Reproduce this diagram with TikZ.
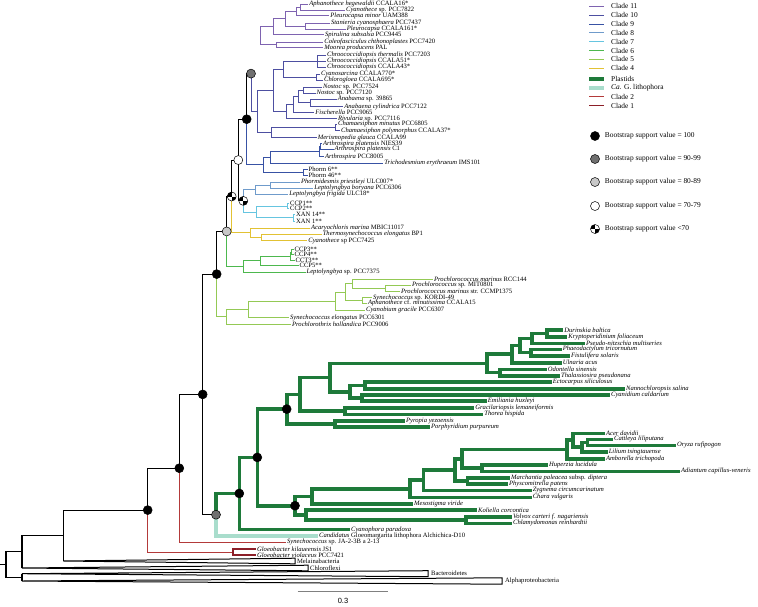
\documentclass[tikz,border=0pt]{standalone}
\usepackage{fontspec}
\setmainfont{Liberation Serif}
\newfontfamily\barfont{Liberation Sans}
\usetikzlibrary{positioning}
\definecolor{cladeXI}{HTML}{7E63B0}
\definecolor{cladeX}{HTML}{4D4FA1}
\definecolor{cladeIX}{HTML}{3852A4}
\definecolor{cladeVIII}{HTML}{6F9BCB}
\definecolor{cladeVII}{HTML}{66C5E0}
\definecolor{cladeVI}{HTML}{4DB84E}
\definecolor{cladeV}{HTML}{94C955}
\definecolor{cladeIV}{HTML}{E2C234}
\definecolor{plastid}{HTML}{1E7A3A}
\definecolor{lithoteal}{HTML}{A9DDCC}
\definecolor{cladeII}{HTML}{B33A3A}
\definecolor{cladeI}{HTML}{8C1F28}
\definecolor{bootgrey}{HTML}{707070}
\definecolor{bootlight}{HTML}{C8C8C8}

\begin{document}
\begin{tikzpicture}[
    x=1pt, y=-1pt,
    leaf/.style={anchor=west, inner xsep=0.9pt, inner ysep=0.2pt, font=\fontsize{6.6}{7}\selectfont},
    legtxt/.style={anchor=west, inner sep=0pt, font=\fontsize{7.4}{8}\selectfont},
    bb/.style={draw=black, line width=1.1pt},
    cl/.style={draw=#1, line width=0.9pt},
    pl/.style={draw=plastid, line width=3.6pt},
    lt/.style={draw=lithoteal, line width=3.6pt},
    b100/.style={circle, draw=black, fill=black, line width=0.5pt,
        minimum size=9pt, inner sep=0pt},
    b90/.style={b100, fill=bootgrey},
    b80/.style={b100, fill=bootlight},
    b70/.style={b100, fill=white},
    bpie/.style={b70, path picture={
        \fill[black] (path picture bounding box.center) -- (path picture bounding box.north)
            -| (path picture bounding box.west) -- cycle;
        \fill[black] (path picture bounding box.center) -- (path picture bounding box.south)
            -| (path picture bounding box.east) -- cycle;}},
    collapsed/.style={draw=black, fill=white, line width=1pt, line join=miter}
]
\useasboundingbox (0,0) rectangle (758,606);

% Clade 11
\coordinate (n11a) at (300,7);
\coordinate (n11b) at (296,11.35);
\coordinate (n11c) at (305,26);
\coordinate (n11d) at (285,18.7);
\coordinate (n11e) at (273,26.7);
\coordinate (n11f) at (276,44.85);
\coordinate (n11g) at (260,35.8);
\node[leaf] (aph) at (308.3,4) {\textit{Aphanothece hegewaldii} CCALA16*};
\node[leaf] (cyt) at (345,10) {\textit{Cyanothece} sp. PCC7822};
\node[leaf] (plm) at (329.3,15.7) {\textit{Pleurocapsa minor} UAM388};
\node[leaf] (stn) at (330,23) {\textit{Stanieria cyanosphaera} PCC7437};
\node[leaf] (plc) at (345.7,29) {\textit{Pleurocapsa} CCALA161*};
\node[leaf] (spi) at (324,34.7) {\textit{Spirulina subsalsa} PCC9445};
\node[leaf] (col) at (323.3,42) {\textit{Coleofasciculus chthonoplastes} PCC7420};
\node[leaf] (moo) at (323.3,47.7) {\textit{Moorea producens} PAL};
\draw[cl=cladeXI] (n11a) |- (aph.west);
\draw[cl=cladeXI] (n11a) |- (cyt.west);
\draw[cl=cladeXI] (n11b) |- (n11a);
\draw[cl=cladeXI] (n11b) |- (plm.west);
\draw[cl=cladeXI] (n11c) |- (stn.west);
\draw[cl=cladeXI] (n11c) |- (plc.west);
\draw[cl=cladeXI] (n11d) |- (n11b);
\draw[cl=cladeXI] (n11d) |- (n11c);
\draw[cl=cladeXI] (n11e) |- (n11d);
\draw[cl=cladeXI] (n11e) |- (spi.west);
\draw[cl=cladeXI] (n11f) |- (col.west);
\draw[cl=cladeXI] (n11f) |- (moo.west);
\draw[cl=cladeXI] (n11g) |- (n11e);
\draw[cl=cladeXI] (n11g) |- (n11f);

% Clade 10
\coordinate (chro) at (317,61);
\coordinate (csch) at (316,77);
\coordinate (n10d) at (283.3,69);
\coordinate (nos1) at (303,90.15);
\coordinate (ana) at (310,102.85);
\coordinate (nos2) at (298,96.5);
\coordinate (nos3) at (293,104.6);
\coordinate (nos4) at (286,111.65);
\coordinate (n10a) at (273.3,90.3);
\coordinate (cham) at (335.5,127.25);
\coordinate (n10b) at (271.7,132.5);
\coordinate (n10c) at (257.3,111.4);
\node[leaf] (cth) at (326,55) {\textit{Chroococcidiopsis thermalis} PCC7203};
\node[leaf] (c51) at (326,61) {\textit{Chroococcidiopsis} CCALA51*};
\node[leaf] (c43) at (326,67) {\textit{Chroococcidiopsis} CCALA43*};
\node[leaf] (csa) at (320,74) {\textit{Cyanosarcina} CCALA770*};
\node[leaf] (clg) at (323,80) {\textit{Chlorogloea} CCALA695*};
\node[leaf] (n24) at (322,87.3) {\textit{Nostoc} sp. PCC7524};
\node[leaf] (n20) at (315.5,93) {\textit{Nostoc} sp. PCC7120};
\node[leaf] (a39) at (336.7,99) {\textit{Anabaena} sp. 39865};
\node[leaf] (acy) at (343.3,106.7) {\textit{Anabaena cylindrica} PCC7122};
\node[leaf] (fis) at (314.3,112.7) {\textit{Fischerella} PCC9065};
\node[leaf] (riv) at (337,118.7) {\textit{Rivularia} sp. PCC7116};
\node[leaf] (cmi) at (337,124) {\textit{Chamaesiphon minutus} PCC6805};
\node[leaf] (cpo) at (340,130.5) {\textit{Chamaesiphon polymorphus} CCALA37*};
\node[leaf] (mer) at (316.7,137.7) {\textit{Merismopedia glauca} CCALA99};
\draw[cl=cladeX] (chro) |- (cth.west);
\draw[cl=cladeX] (chro) |- (c51.west);
\draw[cl=cladeX] (chro) |- (c43.west);
\draw[cl=cladeX] (csch) |- (csa.west);
\draw[cl=cladeX] (csch) |- (clg.west);
\draw[cl=cladeX] (n10d) |- (chro);
\draw[cl=cladeX] (n10d) |- (csch);
\draw[cl=cladeX] (nos1) |- (n24.west);
\draw[cl=cladeX] (nos1) |- (n20.west);
\draw[cl=cladeX] (ana) |- (a39.west);
\draw[cl=cladeX] (ana) |- (acy.west);
\draw[cl=cladeX] (nos2) |- (nos1);
\draw[cl=cladeX] (nos2) |- (ana);
\draw[cl=cladeX] (nos3) |- (nos2);
\draw[cl=cladeX] (nos3) |- (fis.west);
\draw[cl=cladeX] (nos4) |- (nos3);
\draw[cl=cladeX] (nos4) |- (riv.west);
\draw[cl=cladeX] (n10a) |- (n10d);
\draw[cl=cladeX] (n10a) |- (nos4);
\draw[cl=cladeX] (cham) |- (cmi.west);
\draw[cl=cladeX] (cham) |- (cpo.west);
\draw[cl=cladeX] (n10b) |- (cham);
\draw[cl=cladeX] (n10b) |- (mer.west);
\draw[cl=cladeX] (n10c) |- (n10a);
\draw[cl=cladeX] (n10c) |- (n10b);

% Clade 9
\coordinate (art1) at (320.5,146.5);
\coordinate (art) at (319.5,151.6);
\coordinate (trin) at (270,157.45);
\coordinate (phn) at (303,172.15);
\coordinate (n9) at (263.3,164.8);
\node[leaf] (an3) at (322,143.7) {\textit{Arthrospira platensis} NIES39};
\node[leaf] (ac1) at (333.5,149.3) {\textit{Arthrospira platensis} C1};
\node[leaf] (a85) at (324,156.7) {\textit{Arthrospira} PCC8005};
\node[leaf] (tri) at (383.3,163.3) {\textit{Trichodesmium erythraeum} IMS101};
\node[leaf] (ph6) at (307.5,169) {Phorm 6**};
\node[leaf] (ph46) at (307.5,175.3) {Phorm 46**};
\draw[cl=cladeIX] (art1) |- (an3.west);
\draw[cl=cladeIX] (art1) |- (ac1.west);
\draw[cl=cladeIX] (art) |- (art1);
\draw[cl=cladeIX] (art) |- (a85.west);
\draw[cl=cladeIX] (trin) |- (art);
\draw[cl=cladeIX] (trin) |- (tri.west);
\draw[cl=cladeIX] (phn) |- (ph6.west);
\draw[cl=cladeIX] (phn) |- (ph46.west);
\draw[cl=cladeIX] (n9) |- (trin);
\draw[cl=cladeIX] (n9) |- (phn);

% Clade 8 and 7
\coordinate (lbn) at (270,185.3);
\coordinate (n8) at (255,189.8);
\coordinate (ccn) at (287.5,206.1);
\coordinate (xan) at (293,217.85);
\coordinate (n7) at (256.7,212);
\node[leaf] (phs) at (300,182.3) {\textit{Phormidesmis priestleyi} ULC007*};
\node[leaf] (lbo) at (313.3,188.3) {\textit{Leptolyngbya boryana} PCC6306};
\node[leaf] (lfr) at (288.3,194.3) {\textit{Leptolyngbya frigida} ULC18*};
\node[leaf] (cp1) at (289,203.4) {CCP1**};
\node[leaf] (cp2) at (289,208.8) {CCP2**};
\node[leaf] (x14) at (295,214) {XAN 14**};
\node[leaf] (x1) at (295,221.7) {XAN 1**};
\draw[cl=cladeVIII] (lbn) |- (phs.west);
\draw[cl=cladeVIII] (lbn) |- (lbo.west);
\draw[cl=cladeVIII] (n8) |- (lbn);
\draw[cl=cladeVIII] (n8) |- (lfr.west);
\draw[cl=cladeVII] (ccn) |- (cp1.west);
\draw[cl=cladeVII] (ccn) |- (cp2.west);
\draw[cl=cladeVII] (xan) |- (x14.west);
\draw[cl=cladeVII] (xan) |- (x1.west);
\draw[cl=cladeVII] (n7) |- (ccn);
\draw[cl=cladeVII] (n7) |- (xan);

% Clade 4
\coordinate (y1) at (261.7,237.5);
\coordinate (n4) at (250,232.9);
\node[leaf] (aca) at (310,228.3) {\textit{Acaryochloris marina} MBIC11017};
\node[leaf] (the) at (321.7,234.3) {\textit{Thermosynechococcus elongatus} BP1};
\node[leaf] (c25) at (307.3,240.7) {\textit{Cyanothece} sp PCC7425};
\draw[cl=cladeIV] (y1) |- (the.west);
\draw[cl=cladeIV] (y1) |- (c25.west);
\draw[cl=cladeIV] (n4) |- (aca.west);
\draw[cl=cladeIV] (n4) |- (y1);

% Clade 6
\coordinate (g1) at (291.5,252.2);
\coordinate (g2) at (290,256.1);
\coordinate (g3) at (260,260.6);
\coordinate (n6) at (243.3,266.4);
\node[leaf] (cp3) at (293.5,249.6) {CCP3**};
\node[leaf] (cp4) at (293.5,254.8) {CCP4**};
\node[leaf] (ct3) at (294.5,260) {CCT3**};
\node[leaf] (cp5) at (298.5,265.2) {CCP5**};
\node[leaf] (l75) at (305.5,272.3) {\textit{Leptolyngbya} sp. PCC7375};
\draw[cl=cladeVI] (g1) |- (cp3.west);
\draw[cl=cladeVI] (g1) |- (cp4.west);
\draw[cl=cladeVI] (g2) |- (g1);
\draw[cl=cladeVI] (g2) |- (ct3.west);
\draw[cl=cladeVI] (g3) |- (g2);
\draw[cl=cladeVI] (g3) |- (cp5.west);
\draw[cl=cladeVI] (n6) |- (g3);
\draw[cl=cladeVI] (n6) |- (l75.west);

% Clade 5
\coordinate (pr1) at (385,288.25);
\coordinate (pr2) at (352,283.8);
\coordinate (skn) at (362,300.4);
\coordinate (xn) at (345,292.1);
\coordinate (un) at (335,301);
\coordinate (bn) at (248.3,309.35);
\coordinate (n5) at (226.7,316.7);
\node[leaf] (rcc) at (433,279.3) {\textit{Prochlorococcus marinus} RCC144};
\node[leaf] (mit) at (411,285) {\textit{Prochlorococcus} sp. MIT0801};
\node[leaf] (ccm) at (400,291.5) {\textit{Prochlorococcus marinus} str. CCMP1375};
\node[leaf] (kor) at (372,297.5) {\textit{Synechococcus} sp. KORDI-49};
\node[leaf] (mnt) at (367,303.3) {\textit{Aphanothece} cf. \textit{minutissima} CCALA15};
\node[leaf] (cgr) at (365,310) {\textit{Cyanobium gracile} PCC6307};
\node[leaf] (sel) at (289,317.7) {\textit{Synechococcus elongatus} PCC6301};
\node[leaf] (pho) at (291,324) {\textit{Prochlorothrix hollandica} PCC9006};
\draw[cl=cladeV] (pr1) |- (mit.west);
\draw[cl=cladeV] (pr1) |- (ccm.west);
\draw[cl=cladeV] (pr2) |- (rcc.west);
\draw[cl=cladeV] (pr2) |- (pr1);
\draw[cl=cladeV] (skn) |- (kor.west);
\draw[cl=cladeV] (skn) |- (mnt.west);
\draw[cl=cladeV] (xn) |- (pr2);
\draw[cl=cladeV] (xn) |- (skn);
\draw[cl=cladeV] (un) |- (xn);
\draw[cl=cladeV] (un) |- (cgr.west);
\draw[cl=cladeV] (bn) |- (un);
\draw[cl=cladeV] (bn) |- (sel.west);
\draw[cl=cladeV] (n5) |- (bn);
\draw[cl=cladeV] (n5) |- (pho.west);

% Cyanobacterial backbone
\coordinate (gnode) at (251,73.6);
\coordinate (b1) at (246.7,119.2);
\coordinate (p7) at (243.3,200.9);
\coordinate (w1) at (238.3,160.05);
\coordinate (w2) at (231.7,196.5);
\coordinate (lg) at (226.7,231.45);
\coordinate (k1) at (216.7,274.1);
\draw[cl=cladeX] (gnode) |- (n10c);
\draw[bb] (b1) |- (gnode);
\draw[cl=cladeIX] (b1) |- (n9);
\draw[cl=cladeVIII] (p7) |- (n8);
\draw[cl=cladeVII] (p7) |- (n7);
\draw[bb] (w1) |- (b1);
\draw[bb] (w1) |- (p7);
\draw[bb] (w2) |- (w1);
\draw[cl=cladeIV] (w2) |- (n4);
\draw[bb] (lg) |- (w2);
\draw[cl=cladeVI] (lg) |- (n6);
\draw[bb] (k1) |- (lg);
\draw[cl=cladeV] (k1) |- (n5);

% Plastids: red lineage
\coordinate (dn) at (546.7,333.35);
\coordinate (d1) at (531.7,338.3);
\coordinate (d2) at (530.7,352.5);
\coordinate (d3) at (520,345.4);
\coordinate (d4) at (511.7,354.05);
\coordinate (d5) at (500,372.65);
\coordinate (dia) at (486.7,363.35);
\coordinate (enn) at (365,385.35);
\coordinate (cen) at (362,398);
\coordinate (ra2) at (350,391.7);
\coordinate (ra) at (330,377.5);
\coordinate (rb) at (345,411.15);
\coordinate (r1) at (300,394.3);
\coordinate (rr) at (335,423.85);
\coordinate (p3) at (286.7,409.1);
\node[leaf] (dur) at (563.3,330) {\textit{Durinskia baltica}};
\node[leaf] (kry) at (567.3,336.7) {\textit{Kryptoperidinium foliaceum}};
\node[leaf] (psn) at (585,343.3) {\textit{Pseudo-nitzschia multiseries}};
\node[leaf] (pha) at (561.7,349.3) {\textit{Phaeodactylum tricornutum}};
\node[leaf] (fsl) at (570,355.7) {\textit{Fistulifera solaris}};
\node[leaf] (uln) at (561.7,362.7) {\textit{Ulnaria acus}};
\node[leaf] (odo) at (546.7,369.3) {\textit{Odontella sinensis}};
\node[leaf] (tha) at (560,376) {\textit{Thalassiosira pseudonana}};
\node[leaf] (ect) at (551.7,382) {\textit{Ectocarpus siliculosus}};
\node[leaf] (nan) at (625,388.7) {\textit{Nannochloropsis salina}};
\node[leaf] (cya) at (610,395) {\textit{Cyanidium caldarium}};
\node[leaf] (emi) at (486.7,401) {\textit{Emiliania huxleyi}};
\node[leaf] (gra) at (474.3,408) {\textit{Gracilariopsis lemaneiformis}};
\node[leaf] (tho) at (483.3,414.3) {\textit{Thorea hispida}};
\node[leaf] (pyr) at (405,420.7) {\textit{Pyropia yezoensis}};
\node[leaf] (por) at (430,427) {\textit{Porphyridium purpureum}};
\draw[pl] (dn) |- (dur.west);
\draw[pl] (dn) |- (kry.west);
\draw[pl] (d1) |- (dn);
\draw[pl] (d1) |- (psn.west);
\draw[pl] (d2) |- (pha.west);
\draw[pl] (d2) |- (fsl.west);
\draw[pl] (d3) |- (d1);
\draw[pl] (d3) |- (d2);
\draw[pl] (d4) |- (d3);
\draw[pl] (d4) |- (uln.west);
\draw[pl] (d5) |- (odo.west);
\draw[pl] (d5) |- (tha.west);
\draw[pl] (dia) |- (d4);
\draw[pl] (dia) |- (d5);
\draw[pl] (enn) |- (ect.west);
\draw[pl] (enn) |- (nan.west);
\draw[pl] (cen) |- (cya.west);
\draw[pl] (cen) |- (emi.west);
\draw[pl] (ra2) |- (enn);
\draw[pl] (ra2) |- (cen);
\draw[pl] (ra) |- (dia);
\draw[pl] (ra) |- (ra2);
\draw[pl] (rb) |- (gra.west);
\draw[pl] (rb) |- (tho.west);
\draw[pl] (r1) |- (ra);
\draw[pl] (r1) |- (rb);
\draw[pl] (rr) |- (pyr.west);
\draw[pl] (rr) |- (por.west);
\draw[pl] (p3) |- (r1);
\draw[pl] (p3) |- (rr);

% Plastids: green lineage
\coordinate (nco) at (587.3,442.3);
\coordinate (nmono) at (581.7,447.15);
\coordinate (nmeso) at (573,440.2);
\coordinate (nang) at (566.7,449.45);
\coordinate (fern) at (482,468);
\coordinate (a4) at (462,458.7);
\coordinate (bryo) at (467.3,481);
\coordinate (a3) at (455,469.85);
\coordinate (a2) at (423.3,480.2);
\coordinate (a1) at (410,488.75);
\coordinate (sn) at (312,496.4);
\coordinate (vcn) at (466,520);
\coordinate (chn) at (306,515);
\coordinate (p4) at (295,505.7);
\node[leaf] (ace) at (605,433.3) {\textit{Acer davidii}};
\node[leaf] (cat) at (613,439.3) {\textit{Cattleya liliputana}};
\node[leaf] (ory) at (676,445.3) {\textit{Oryza rufipogon}};
\node[leaf] (lil) at (607.7,452) {\textit{Lilium tsingtauense}};
\node[leaf] (amb) at (605,458.7) {\textit{Amborella trichopoda}};
\node[leaf] (hup) at (548,464.7) {\textit{Huperzia lucidula}};
\node[leaf] (adi) at (680,471.3) {\textit{Adiantum capillus-veneris}};
\node[leaf] (mar) at (510,478) {\textit{Marchantia paleacea} subsp. \textit{diptera}};
\node[leaf] (phy) at (508,484) {\textit{Physcomitrella patens}};
\node[leaf] (zyg) at (531.7,490.5) {\textit{Zygnema circumcarinatum}};
\node[leaf] (cha) at (531.7,497.3) {\textit{Chara vulgaris}};
\node[leaf] (mes) at (413,504) {\textit{Mesostigma viride}};
\node[leaf] (kol) at (477,510) {\textit{Koliella corcontica}};
\node[leaf] (vol) at (512,516.7) {\textit{Volvox carteri f. nagariensis}};
\node[leaf] (chm) at (512,523.3) {\textit{Chlamydomonas reinhardtii}};
\draw[pl] (nco) |- (cat.west);
\draw[pl] (nco) |- (ory.west);
\draw[pl] (nmono) |- (nco);
\draw[pl] (nmono) |- (lil.west);
\draw[pl] (nmeso) |- (ace.west);
\draw[pl] (nmeso) |- (nmono);
\draw[pl] (nang) |- (nmeso);
\draw[pl] (nang) |- (amb.west);
\draw[pl] (fern) |- (hup.west);
\draw[pl] (fern) |- (adi.west);
\draw[pl] (a4) |- (nang);
\draw[pl] (a4) |- (fern);
\draw[pl] (bryo) |- (mar.west);
\draw[pl] (bryo) |- (phy.west);
\draw[pl] (a3) |- (a4);
\draw[pl] (a3) |- (bryo);
\draw[pl] (a2) |- (a3);
\draw[pl] (a2) |- (zyg.west);
\draw[pl] (a1) |- (a2);
\draw[pl] (a1) |- (cha.west);
\draw[pl] (sn) |- (a1);
\draw[pl] (sn) |- (mes.west);
\draw[pl] (vcn) |- (vol.west);
\draw[pl] (vcn) |- (chm.west);
\draw[pl] (chn) |- (kol.west);
\draw[pl] (chn) |- (vcn);
\draw[pl] (p4) |- (sn);
\draw[pl] (p4) |- (chn);

% Plastid root, Gloeomargarita, deep backbone
\coordinate (p2) at (257.3,457.4);
\coordinate (p1) at (239.3,493.45);
\coordinate (p0) at (216,514.7);
\coordinate (kb) at (202.7,394.4);
\coordinate (kc) at (179.3,468.2);
\coordinate (kd) at (147.7,510.1);
\coordinate (gln) at (233,552);
\coordinate (ke) at (63.3,535.55);
\coordinate (kf) at (22,551.8);
\coordinate (kg) at (22,577.35);
\coordinate (root) at (6,564.6);
\coordinate (stub) at (0,564.6);
\node[leaf] (cyp) at (350,529.5) {\textit{Cyanophora paradoxa}};
\node[leaf] (cgl) at (318,536) {\textit{Candidatus} Gloeomargarita lithophora Alchichica-D10};
\node[leaf] (sja) at (286,542) {\textit{Synechococcus} sp. JA-2-3B a 2-13};
\node[leaf] (gki) at (256,549) {\textit{Gloeobacter kilaueensis} JS1};
\node[leaf] (gvi) at (256,555) {\textit{Gloeobacter violaceus} PCC7421};
\draw[pl] (p2) |- (p3);
\draw[pl] (p2) |- (p4);
\draw[pl] (p1) |- (p2);
\draw[pl] (p1) |- (cyp.west);
\draw[pl] (p0) |- (p1);
\draw[lt] (p0) |- (cgl.west);
\draw[bb] (kb) |- (k1);
\draw[bb] (kb) |- (p0);
\draw[bb] (kc) |- (kb);
\draw[cl=cladeII] (kc) |- (sja.west);
\draw[bb] (kd) |- (kc);
\draw[cl=cladeII] (kd) |- (gln);
\draw[cl=cladeI, line width=1.3pt] (gln) |- (gki.west);
\draw[cl=cladeI, line width=1.3pt] (gln) |- (gvi.west);

% Collapsed outgroups
\draw[collapsed] (63.3,561) -- (295,558.2) -- (295,563.8) -- cycle;
\draw[collapsed] (22,568) -- (308,565.2) -- (308,570.8) -- cycle;
\draw[collapsed] (22,573.7) -- (428,570.7) -- (428,576.7) -- cycle;
\draw[collapsed] (22,581) -- (502,577.8) -- (502,584.2) -- cycle;
\node[leaf] (mel) at (296,561) {Melainabacteria};
\node[leaf] (chf) at (309,568) {Chloroflexi};
\node[leaf] (bac) at (430,573.7) {Bacteroidetes};
\node[leaf] (alp) at (504,581) {Alphaproteobacteria};
\draw[bb] (ke) |- (kd);
\draw[bb] (ke) |- (63.3,561);
\draw[bb] (kf) |- (ke);
\draw[bb] (kf) -- (22,568);
\draw[bb] (kg) -- (22,573.7);
\draw[bb] (kg) -- (22,581);
\draw[bb] (root) |- (kf);
\draw[bb] (root) |- (kg);
\draw[bb] (stub) -- (root);

% Bootstrap support
\node[b90] at (gnode) {};
\node[b100] at (b1) {};
\node[b70] at (w1) {};
\node[bpie] at (w2) {};
\node[bpie] at (p7) {};
\node[b80] at (lg) {};
\node[b100] at (k1) {};
\node[b100] at (kb) {};
\node[b100] at (kc) {};
\node[b100] at (kd) {};
\node[b90] at (p0) {};
\node[b100] at (p1) {};
\node[b100] at (p2) {};
\node[b100] at (p3) {};
\node[b100] at (p4) {};

% Scale bar
\coordinate (sbl) at (297.6,591);
\coordinate (sbr) at (387.8,591);
\draw[draw=gray, line width=0.9pt] (sbl) -- (sbr);
\node[font=\barfont\fontsize{7.5}{8}\selectfont, inner sep=0pt] (sbt) at (343,601) {0.3};

% Legend
\node[legtxt] (t11) at (611,6) {Clade 11};
\node[legtxt] (t10) at (611,15) {Clade 10};
\node[legtxt] (t9) at (611,24) {Clade 9};
\node[legtxt] (t8) at (611,32.7) {Clade 8};
\node[legtxt] (t7) at (611,41.7) {Clade 7};
\node[legtxt] (t6) at (611,50.7) {Clade 6};
\node[legtxt] (t5) at (611,59.3) {Clade 5};
\node[legtxt] (t4) at (611,68.3) {Clade 4};
\node[legtxt] (tpl) at (611,79) {Plastids};
\node[legtxt] (tca) at (611,87.7) {\textit{Ca.} G. lithophora};
\node[legtxt] (t2) at (611,96.7) {Clade 2};
\node[legtxt] (t1) at (611,105.7) {Clade 1};
\draw[cl=cladeXI, line width=1pt] ([xshift=-22pt]t11.west) -- ++(15,0);
\draw[cl=cladeX, line width=1pt] ([xshift=-22pt]t10.west) -- ++(15,0);
\draw[cl=cladeIX, line width=1pt] ([xshift=-22pt]t9.west) -- ++(15,0);
\draw[cl=cladeVIII, line width=1pt] ([xshift=-22pt]t8.west) -- ++(15,0);
\draw[cl=cladeVII, line width=1pt] ([xshift=-22pt]t7.west) -- ++(15,0);
\draw[cl=cladeVI, line width=1pt] ([xshift=-22pt]t6.west) -- ++(15,0);
\draw[cl=cladeV, line width=1pt] ([xshift=-22pt]t5.west) -- ++(15,0);
\draw[cl=cladeIV, line width=1pt] ([xshift=-22pt]t4.west) -- ++(15,0);
\draw[pl] ([xshift=-22pt]tpl.west) -- ++(15,0);
\draw[lt] ([xshift=-22pt]tca.west) -- ++(15,0);
\draw[cl=cladeII, line width=1pt] ([xshift=-22pt]t2.west) -- ++(15,0);
\draw[cl=cladeI, line width=1pt] ([xshift=-22pt]t1.west) -- ++(15,0);

\node[b100] (lb1) at (595,136) {};
\node[b90] (lb2) at (595,159) {};
\node[b80] (lb3) at (595,182) {};
\node[b70] (lb4) at (595,206) {};
\node[bpie] (lb5) at (595,229) {};
\node[legtxt, right=5pt of lb1] {Bootstrap support value = 100};
\node[legtxt, right=5pt of lb2] {Bootstrap support value = 90-99};
\node[legtxt, right=5pt of lb3] {Bootstrap support value = 80-89};
\node[legtxt, right=5pt of lb4] {Bootstrap support value = 70-79};
\node[legtxt, right=5pt of lb5] {Bootstrap support value <70};

\end{tikzpicture}
\end{document}
